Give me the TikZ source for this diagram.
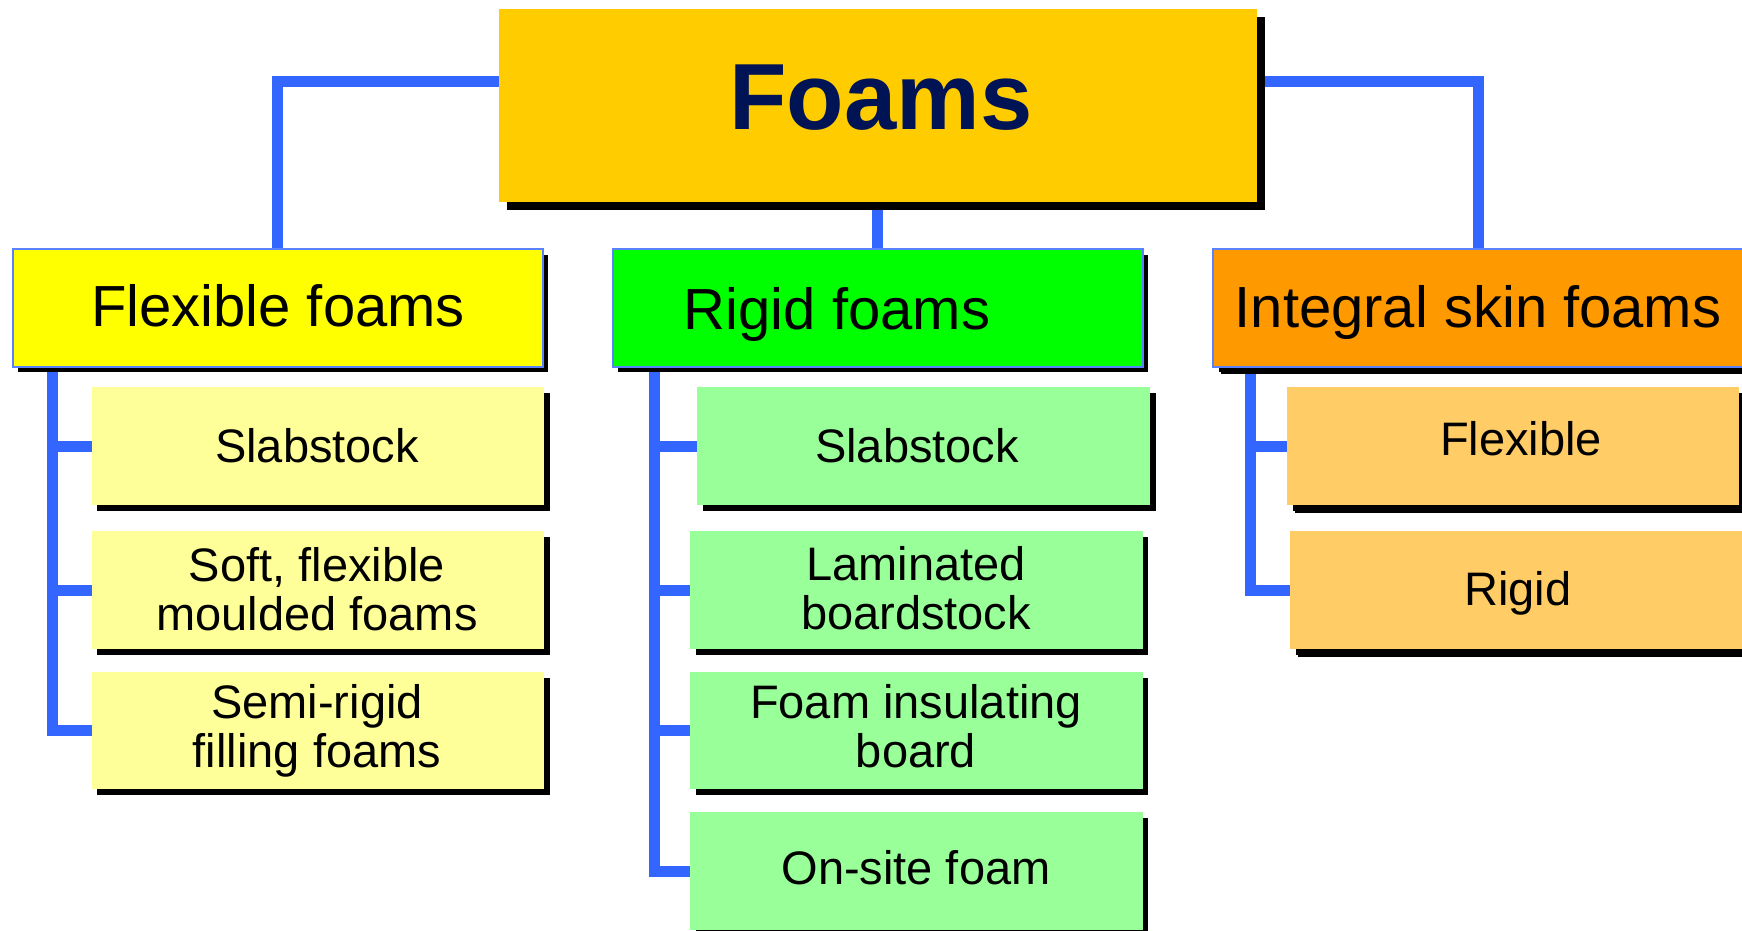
\documentclass[tikz,border=0pt]{standalone}
\usepackage{fontspec}
\setmainfont{Liberation Sans}
\usetikzlibrary{shadows,backgrounds}
\definecolor{connblue}{RGB}{51,102,255}
\definecolor{catborder}{RGB}{90,130,255}
\definecolor{foamsfill}{RGB}{255,204,0}
\definecolor{navy}{RGB}{0,20,85}
\definecolor{flexcat}{RGB}{255,255,0}
\definecolor{rigidcat}{RGB}{0,255,0}
\definecolor{intcat}{RGB}{255,153,0}
\definecolor{flexsub}{RGB}{255,255,153}
\definecolor{rigidsub}{RGB}{153,255,153}
\definecolor{intsub}{RGB}{255,204,102}
\tikzset{
  boxbase/.style={rectangle, inner sep=0pt, outer sep=0pt},
  catbox/.style={boxbase, draw=catborder, line width=2pt, minimum width=530pt, minimum height=117.5pt,
     general shadow={fill=black, shadow xshift=5.5pt, shadow yshift=-5.5pt}},
  subbox/.style={boxbase, minimum width=452.5pt, minimum height=118pt,
     general shadow={fill=black, shadow xshift=5.5pt, shadow yshift=-5.5pt}},
  bigshadow/.style={general shadow={fill=black, shadow xshift=8pt, shadow yshift=-8pt}},
  cattext/.style={anchor=base, font=\fontsize{58}{60}\selectfont},
  subtext/.style={anchor=base, align=center, font=\fontsize{47}{49}\selectfont},
  connector/.style={draw=connblue, line width=11pt}
}
\begin{document}
\begin{tikzpicture}[x=1pt,y=-1pt]
\useasboundingbox (0,0) rectangle (1742,930);
\clip (0,0) rectangle (1742,930);

% top node
\node[boxbase, fill=foamsfill, minimum width=757.5pt, minimum height=192.5pt, bigshadow] (foams) at (877.75,105.25) {};
\node[anchor=base, text=navy, font=\fontsize{94}{94}\selectfont\bfseries] (foamst) at (881,129.3) {Foams};

% categories
\node[catbox, fill=flexcat] (flex) at (277.8,308) {};
\node[cattext] (flext) at (278,326.7) {Flexible foams};
\node[catbox, fill=rigidcat] (rigid) at (877.8,308) {};
\node[cattext] (rigidt) at (837,329) {Rigid foams};
\node[catbox, fill=intcat, general shadow={fill=black, shadow xshift=7.5pt, shadow yshift=-7.5pt}] (integ) at (1478,308) {};
\node[cattext] (integt) at (1478,327.3) {Integral skin foams};

% flexible sub-items
\node[subbox, fill=flexsub] (fslab) at (317.75,446) {};
\node[subtext] (fslabt) at (317,462) {Slabstock};
\node[subbox, fill=flexsub] (fsoft) at (317.75,590) {};
\node[subtext] (fsoftt) at (317,630) {Soft, flexible\\moulded foams};
\node[subbox, fill=flexsub, minimum height=117pt] (fsemi) at (317.75,730.5) {};
\node[subtext] (fsemit) at (317,767) {Semi-rigid\\filling foams};

% rigid sub-items
\node[subbox, fill=rigidsub, minimum width=453pt] (rslab) at (923.5,446) {};
\node[subtext] (rslabt) at (917,462) {Slabstock};
\node[subbox, fill=rigidsub] (rlam) at (916.25,590) {};
\node[subtext] (rlamt) at (916,629) {Laminated\\boardstock};
\node[subbox, fill=rigidsub, minimum height=117pt] (rins) at (916.25,730.5) {};
\node[subtext] (rinst) at (916,767) {Foam insulating\\board};
\node[subbox, fill=rigidsub] (rsite) at (916.25,871) {};
\node[subtext] (rsitet) at (916,884) {On-site foam};

% integral sub-items
\node[subbox, fill=intsub, minimum width=451.5pt, bigshadow] (iflex) at (1512.75,446) {};
\node[subtext] (iflext) at (1521,455.7) {Flexible};
\node[subbox, fill=intsub, minimum width=455pt, bigshadow] (irig) at (1517.5,590) {};
\node[subtext] (irigt) at (1518,605.7) {Rigid};

% bar positions
\coordinate (lev) at (0,81);
\coordinate (fbar) at (52,0);
\coordinate (rbar) at (654,0);
\coordinate (ibar) at (1250,0);

\begin{scope}[on background layer]
  \fill[white] (0,0) rectangle (1742,930);
  \draw[connector] (foams.west |- lev) -| (flex.north);
  \draw[connector] (foams.east |- lev) -| (integ.north);
  \draw[connector] (foams.south -| rigid.north) -- (rigid.north);
  % flexible bar
  \draw[connector] (flex.south -| fbar) |- (fsemi.west);
  \draw[connector] (fbar |- fslab.west) -- (fslab.west);
  \draw[connector] (fbar |- fsoft.west) -- (fsoft.west);
  % rigid bar
  \draw[connector] (rigid.south -| rbar) |- (rsite.west);
  \draw[connector] (rbar |- rslab.west) -- (rslab.west);
  \draw[connector] (rbar |- rlam.west) -- (rlam.west);
  \draw[connector] (rbar |- rins.west) -- (rins.west);
  % integral bar
  \draw[connector] (integ.south -| ibar) |- (irig.west);
  \draw[connector] (ibar |- iflex.west) -- (iflex.west);
\end{scope}
\end{tikzpicture}
\end{document}
